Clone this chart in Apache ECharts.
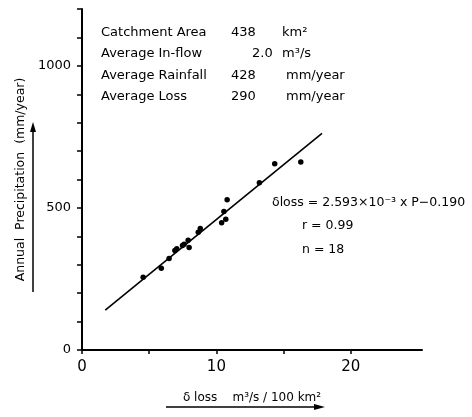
<!DOCTYPE html>
<html>
<head>
<meta charset="utf-8">
<script src="https://cdn.jsdelivr.net/npm/echarts@6/dist/echarts.min.js"></script>
<style>
  html, body { margin: 0; padding: 0; background: #fff; }
  #chart { width: 472px; height: 417px; }
</style>
</head>
<body>
<div id="chart"></div>
<script>
// Observed specific loss (m3/s per 100 km2) against annual precipitation (mm/year)
const deltaLoss = [4.55, 5.9, 6.48, 6.91, 7.05, 7.48, 7.6, 7.9, 7.97, 8.65, 8.8, 10.39, 10.7, 10.56, 10.8, 13.2, 14.34, 16.28];
const precipitation = [256, 288, 322, 350, 356, 368, 372, 386, 361, 414, 428, 448, 460, 487, 529, 589, 655, 662];

// Regression: delta_loss = slope * P + intercept (stated per 10 km2 units, x10 on this axis)
const slope = 2.593e-3;
const intercept = -0.190;
const unitFactor = 10;
const fitRange = [140, 762];   // precipitation span of the fitted line

// Tick marks and labels
const xTicks = [0, 5, 10, 15, 20];
const xLabels = [0, 10, 20];
const yTicks = [0, 100, 200, 300, 400, 500, 600, 700, 800, 900, 1000, 1100, 1200];
const yLabels = [0, 500, 1000];

// Catchment summary block
const infoNames = ['Catchment Area', 'Average In-flow', 'Average Rainfall', 'Average Loss'];
const infoValues = ['438', '2.0', '428', '290'];
const infoUnits = ['km²', 'm³/s', 'mm/year', 'mm/year'];
const statsLines = ['δloss = 2.593×10⁻³ x P−0.190', 'r = 0.99', 'n = 18'];

const points = deltaLoss.map((d, i) => [d, precipitation[i]]);
const fitLine = fitRange.map(p => [unitFactor * (slope * p + intercept), p]);

const FONT = 'DejaVu Sans';
const ink = '#000';

const graphics = [];
infoNames.forEach((name, i) => {
  const y = 34 + i * 21.5;
  graphics.push({ type: 'text', left: 101, top: y - 8, style: { text: name, font: '13px ' + FONT, fill: ink } });
  graphics.push({ type: 'text', left: i === 1 ? 252 : 231, top: y - 8, style: { text: infoValues[i], font: '13px ' + FONT, fill: ink } });
  graphics.push({ type: 'text', left: i < 2 ? 282 : 286, top: y - 8, style: { text: infoUnits[i], font: '13px ' + FONT, fill: ink } });
});
statsLines.forEach((s, i) => {
  graphics.push({ type: 'text', left: i === 0 ? 272 : 302, top: 196 + i * 23.5, style: { text: s, font: '12.5px ' + FONT, fill: ink } });
});
// arrows under axis titles
graphics.push({ type: 'line', shape: { x1: 33, y1: 292, x2: 33, y2: 128 }, style: { stroke: ink, lineWidth: 1.5 } });
graphics.push({ type: 'polygon', shape: { points: [[30, 132], [36, 132], [33, 122]] }, style: { fill: ink } });
graphics.push({ type: 'line', shape: { x1: 166, y1: 407, x2: 318, y2: 407 }, style: { stroke: ink, lineWidth: 1.5 } });
graphics.push({ type: 'polygon', shape: { points: [[314, 404], [314, 410], [325, 407]] }, style: { fill: ink } });

const chart = echarts.init(document.getElementById('chart'), null, { renderer: 'canvas' });
chart.setOption({
  backgroundColor: '#fff',
  animation: false,
  grid: { left: 82, right: 50, top: 9, bottom: 67, containLabel: false },
  xAxis: {
    type: 'value', min: 0, max: 25.3, interval: 5,
    name: 'δ loss    m³/s / 100 km²', nameLocation: 'middle', nameGap: 42,
    nameTextStyle: { fontFamily: FONT, fontSize: 12, color: ink },
    splitLine: { show: false },
    axisLine: { onZero: false, lineStyle: { color: ink, width: 2 } },
    axisTick: { show: true, length: 4, customValues: xTicks, lineStyle: { color: ink, width: 1.5 } },
    axisLabel: { customValues: xLabels, margin: 10, fontFamily: FONT, fontSize: 15, color: ink,
                 formatter: v => String(v) }
  },
  yAxis: {
    type: 'value', min: 0, max: 1200, interval: 100,
    name: 'Annual  Precipitation  (mm/year)', nameLocation: 'middle', nameGap: 48,
    nameTextStyle: { fontFamily: FONT, fontSize: 12.5, color: ink },
    splitLine: { show: false },
    axisLine: { onZero: false, lineStyle: { color: ink, width: 2 } },
    axisTick: { show: true, length: 5, customValues: yTicks, lineStyle: { color: ink, width: 1.5 } },
    axisLabel: { customValues: yLabels, margin: 11, fontFamily: FONT, fontSize: 13, color: ink,
                 formatter: v => String(v) }
  },
  series: [
    {
      type: 'line', data: fitLine, symbol: 'none',
      lineStyle: { color: ink, width: 1.6 }, z: 2
    },
    {
      type: 'scatter', data: points, symbolSize: 5.5,
      itemStyle: { color: ink, opacity: 1 }, z: 3
    }
  ],
  graphic: graphics
});
</script>
</body>
</html>
